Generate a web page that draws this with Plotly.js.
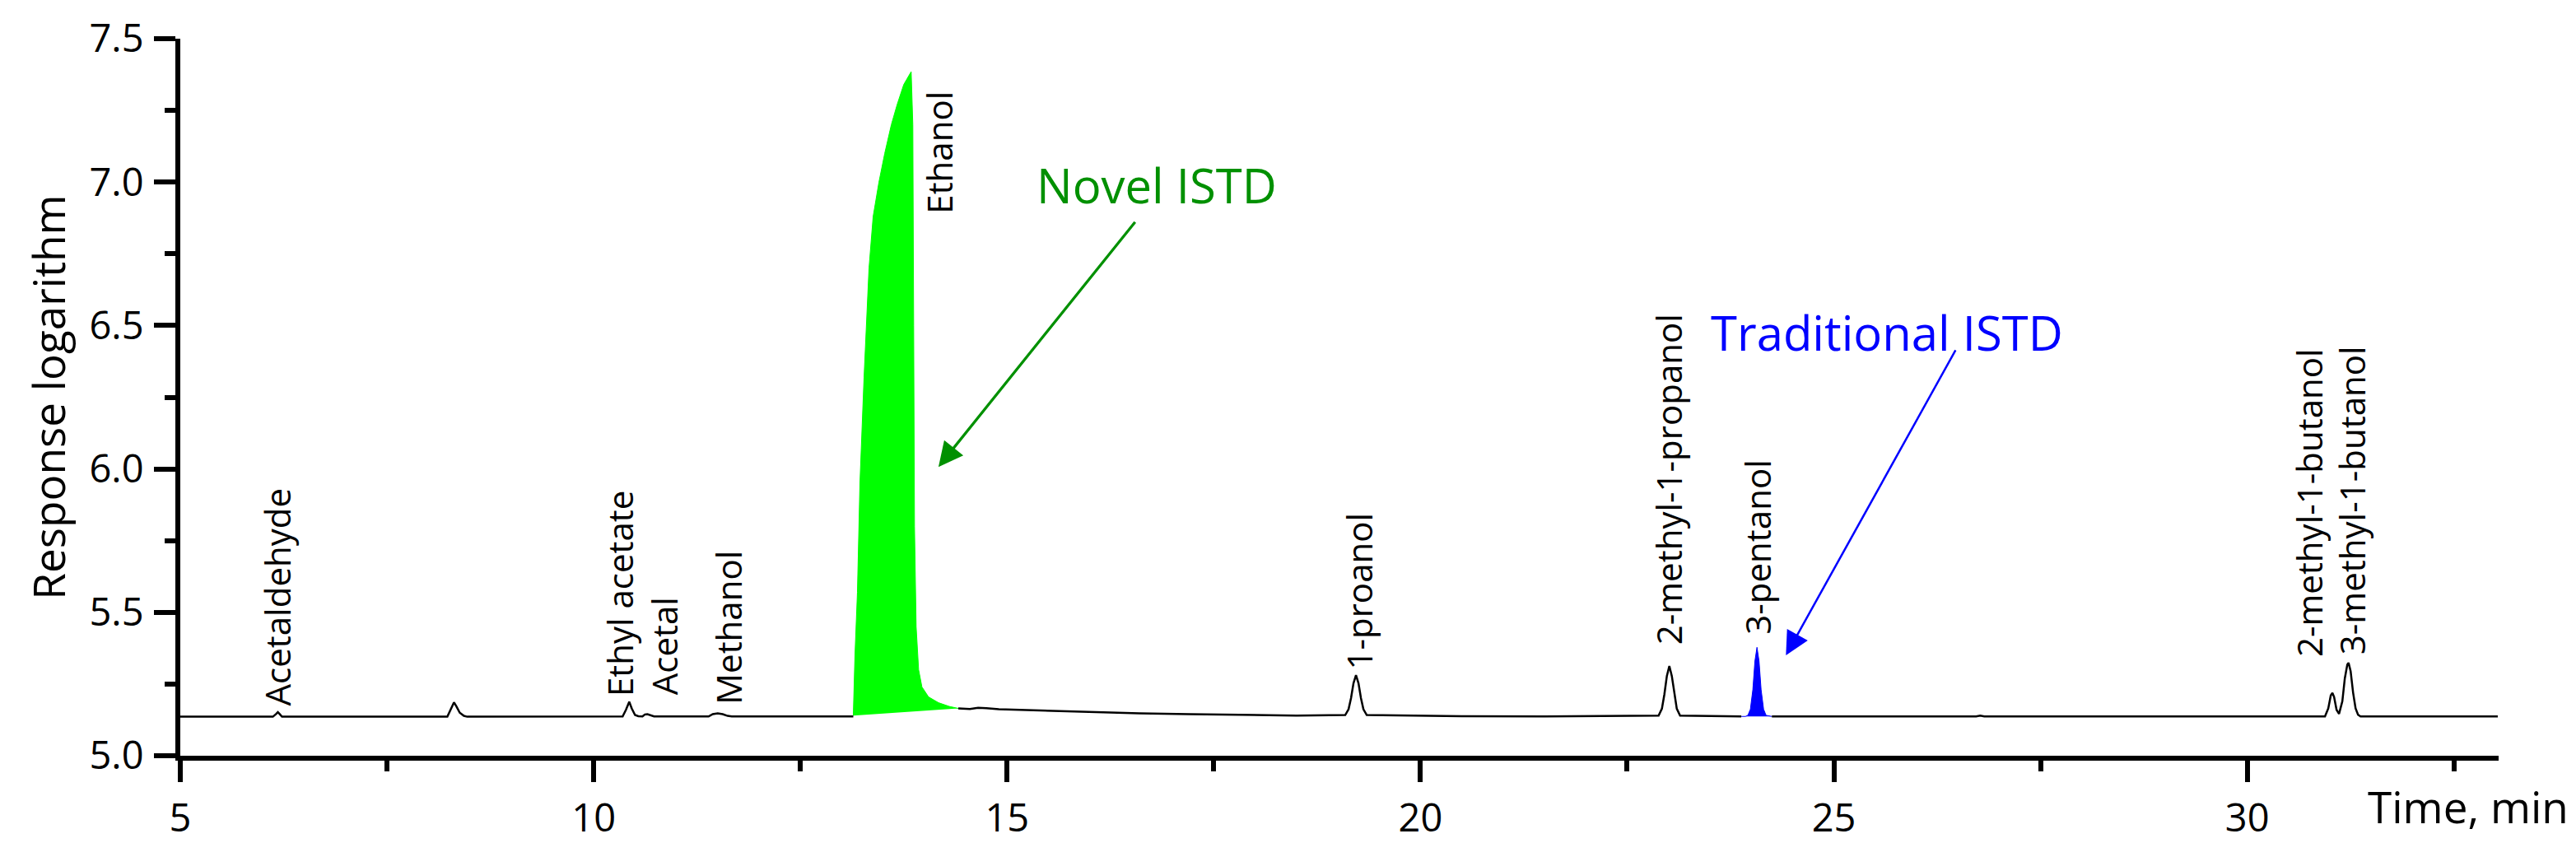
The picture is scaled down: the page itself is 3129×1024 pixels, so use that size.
<!DOCTYPE html>
<html>
<head>
<meta charset="utf-8">
<script src="https://cdn.plot.ly/plotly-3.0.1.min.js"></script>
<style>html,body{margin:0;padding:0;background:#fff;}#chart{width:3129px;height:1024px;}</style>
</head>
<body>
<div id="chart"></div>
<script>
// Main chromatogram (black line); null = gap where a filled peak is drawn instead
const timeMin = [
  5.00, 6.12, 6.16, 6.18, 6.20, 6.23,
  8.23, 8.27, 8.31, 8.34, 8.38, 8.43, 8.47,
  10.35, 10.39, 10.43, 10.46, 10.50, 10.54, 10.59, 10.62, 10.65, 10.68, 10.73,
  11.39, 11.44, 11.50, 11.56, 11.62, 11.67,
  13.14, null,
  14.41, 14.55, 14.65, 14.75, 14.90, 15.50, 16.00, 16.60, 17.20, 17.80, 18.50,
  19.09, 19.13, 19.16, 19.19, 19.22, 19.25, 19.28, 19.31, 19.35,
  20.50, 21.50,
  22.88, 22.92, 22.95, 22.98, 23.01, 23.04, 23.07, 23.10, 23.14,
  23.88, null,
  24.25, 26.72, 26.77, 26.82,
  30.94, 30.98, 31.01, 31.03, 31.05, 31.08, 31.11, 31.15, 31.18, 31.21, 31.225, 31.25, 31.28, 31.31, 31.34, 31.37,
  33.03
];
const responseLog = [
  5.136, 5.136, 5.146, 5.152, 5.146, 5.136,
  5.136, 5.160, 5.186, 5.172, 5.150, 5.139, 5.136,
  5.137, 5.160, 5.188, 5.165, 5.142, 5.138, 5.137, 5.144, 5.145, 5.142, 5.137,
  5.137, 5.145, 5.148, 5.145, 5.139, 5.137,
  5.137, null,
  5.165, 5.163, 5.167, 5.166, 5.162, 5.157, 5.152, 5.148, 5.145, 5.142, 5.140,
  5.142, 5.162, 5.201, 5.253, 5.281, 5.253, 5.201, 5.162, 5.142,
  5.138, 5.137,
  5.140, 5.164, 5.214, 5.278, 5.313, 5.278, 5.214, 5.164, 5.140,
  5.137, null,
  5.137, 5.137, 5.140, 5.137,
  5.137, 5.165, 5.210, 5.219, 5.205, 5.160, 5.146, 5.190, 5.270, 5.318, 5.324, 5.295, 5.220, 5.165, 5.143, 5.137,
  5.137
];

// Ethanol peak (novel ISTD, green filled)
const ethanolTime = [13.14, 13.16, 13.19, 13.22, 13.27, 13.33, 13.38, 13.45, 13.52, 13.60, 13.67, 13.75, 13.84,
                     13.86, 13.87, 13.88, 13.90, 13.93, 13.97, 14.05, 14.17, 14.30, 14.41];
const ethanolResp = [5.140, 5.350, 5.570, 5.950, 6.320, 6.700, 6.880, 7.000, 7.100, 7.200, 7.270, 7.340, 7.385,
                     7.200, 6.500, 5.800, 5.450, 5.300, 5.240, 5.205, 5.185, 5.172, 5.165];

// 3-pentanol peak (traditional ISTD, blue filled)
const pentanolTime = [23.88, 23.93, 23.96, 23.99, 24.02, 24.045, 24.07, 24.095, 24.12, 24.15, 24.18, 24.25];
const pentanolResp = [5.137, 5.137, 5.141, 5.162, 5.230, 5.330, 5.378, 5.330, 5.230, 5.162, 5.141, 5.137];

// Peak labels
const peakNames = ['Acetaldehyde', 'Ethyl acetate', 'Acetal', 'Methanol', 'Ethanol', '1-proanol',
                   '2-methyl-1-propanol', '3-pentanol', '2-methyl-1-butanol', '3-methyl-1-butanol'];
const peakLabelX = [6.17, 10.32, 10.85, 11.63, 14.18, 19.25, 23.00, 24.07, 30.74, 31.27];
const peakLabelY = [5.168, 5.200, 5.206, 5.174, 6.885, 5.293, 5.380, 5.416, 5.337, 5.346];

// Axis ticks
const xTickVals = [5, 10, 15, 20, 25, 30];
const yTickVals = [5.0, 5.5, 6.0, 6.5, 7.0, 7.5];

const FONT = '"Open Sans", "Noto Sans", "DejaVu Sans", sans-serif';

const traces = [
  {
    x: ethanolTime, y: ethanolResp, type: 'scatter', mode: 'lines',
    fill: 'toself', fillcolor: '#00ff00', line: {color: '#00ff00', width: 1},
    hoverinfo: 'skip', showlegend: false
  },
  {
    x: pentanolTime, y: pentanolResp, type: 'scatter', mode: 'lines',
    fill: 'toself', fillcolor: '#0000ff', line: {color: '#0000ff', width: 1},
    hoverinfo: 'skip', showlegend: false
  },
  {
    x: timeMin, y: responseLog, type: 'scatter', mode: 'lines',
    connectgaps: false, line: {color: '#000000', width: 2.5},
    showlegend: false
  }
];

const annotations = peakNames.map((name, i) => ({
  x: peakLabelX[i], y: peakLabelY[i], xref: 'x', yref: 'y',
  text: name, showarrow: false, textangle: -90,
  xanchor: 'center', yanchor: 'bottom',
  font: {family: FONT, size: 42, color: '#000000'}
}));

annotations.push(
  {x: 16.81, y: 6.99, xref: 'x', yref: 'y', text: 'Novel ISTD', showarrow: false,
   xanchor: 'center', yanchor: 'middle', font: {family: FONT, size: 58, color: '#009000'}},
  {x: 14.17, y: 6.007, ax: 16.56, ay: 6.865, xref: 'x', yref: 'y', axref: 'x', ayref: 'y',
   text: '', showarrow: true, arrowhead: 2, arrowwidth: 3.3, arrowsize: 1.8, arrowcolor: '#009000'},
  {x: 25.64, y: 6.478, xref: 'x', yref: 'y', text: 'Traditional ISTD', showarrow: false,
   xanchor: 'center', yanchor: 'middle', font: {family: FONT, size: 58, color: '#0000ff'}},
  {x: 24.42, y: 5.35, ax: 26.48, ay: 6.418, xref: 'x', yref: 'y', axref: 'x', ayref: 'y',
   text: '', showarrow: true, arrowhead: 2, arrowwidth: 2.5, arrowsize: 2.3, arrowcolor: '#0000ff'},
  {x: 1.031, y: -0.071, xref: 'paper', yref: 'paper', text: 'Time, min', showarrow: false,
   xanchor: 'right', yanchor: 'middle', font: {family: FONT, size: 53, color: '#000000'}}
);

const axisCommon = {
  showgrid: false, zeroline: false, showline: true, linecolor: '#000000', linewidth: 6,
  ticks: 'outside', ticklen: 26, tickwidth: 6, tickcolor: '#000000',
  tickfont: {family: FONT, size: 47, color: '#000000'}, automargin: false
};

const layout = {
  width: 3129, height: 1024,
  paper_bgcolor: '#ffffff', plot_bgcolor: '#ffffff',
  margin: {l: 219, r: 94, t: 47, b: 106, pad: 0},
  showlegend: false,
  xaxis: Object.assign({}, axisCommon, {
    range: [5, 33.04], tickmode: 'array', tickvals: xTickVals, ticktext: xTickVals.map(String),
    minor: {dtick: 2.5, tick0: 5, ticks: 'outside', ticklen: 13, tickwidth: 6, tickcolor: '#000000', showgrid: false},
    ticklabelstandoff: 4
  }),
  yaxis: Object.assign({}, axisCommon, {
    range: [5.0, 7.5], tickmode: 'array', tickvals: yTickVals, ticktext: yTickVals.map(v => v.toFixed(1)),
    minor: {dtick: 0.25, tick0: 5, ticks: 'outside', ticklen: 13, tickwidth: 6, tickcolor: '#000000', showgrid: false},
    ticklabelstandoff: 3,
    title: {text: 'Response logarithm', font: {family: FONT, size: 53, color: '#000000'}, standoff: 14}
  }),
  annotations: annotations
};

Plotly.newPlot('chart', traces, layout, {staticPlot: true, displayModeBar: false});
</script>
</body>
</html>
